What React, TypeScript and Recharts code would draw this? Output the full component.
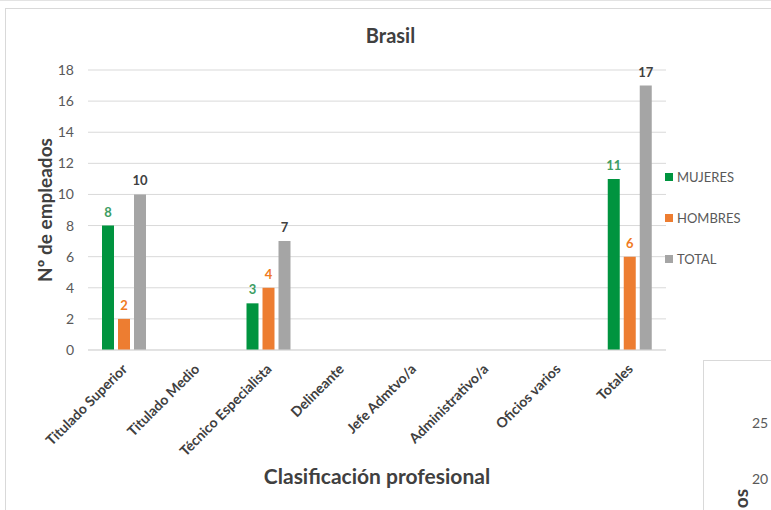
import React from "react";
import { BarChart, Bar, XAxis, YAxis, CartesianGrid, LabelList, Label } from "recharts";

const categories = [
  "Titulado Superior",
  "Titulado Medio",
  "Técnico Especialista",
  "Delineante",
  "Jefe Admtvo/a",
  "Administrativo/a",
  "Oficios varios",
  "Totales",
];
const mujeres = [8, 0, 3, 0, 0, 0, 0, 11];
const hombres = [2, 0, 4, 0, 0, 0, 0, 6];
const total = [10, 0, 7, 0, 0, 0, 0, 17];
const yTicks = [0, 2, 4, 6, 8, 10, 12, 14, 16, 18];

const series = [
  { key: "MUJERES", fill: "#00943F", labelColor: "#3C9D63" },
  { key: "HOMBRES", fill: "#ED7D31", labelColor: "#F07A22" },
  { key: "TOTAL", fill: "#A5A5A5", labelColor: "#404040" },
];

const data = categories.map((name, i) => ({
  name,
  MUJERES: mujeres[i],
  HOMBRES: hombres[i],
  TOTAL: total[i],
}));

const FONT = "Lato, 'Open Sans', sans-serif";

function CategoryTick(props: any) {
  const { x, y, payload } = props;
  return (
    <g transform={`translate(${x + 4},${y + 12})`}>
      <text
        transform="rotate(-45)"
        textAnchor="end"
        fontSize={14}
        fontWeight={700}
        fill="#404040"
        fontFamily={FONT}
      >
        {payload.value}
      </text>
    </g>
  );
}

function YTitle(props: any) {
  const { viewBox } = props;
  const cy = viewBox.y + viewBox.height / 2;
  return (
    <text
      x={44}
      y={cy}
      transform={`rotate(-90, 44, ${cy})`}
      textAnchor="middle"
      dominantBaseline="central"
      fontSize={19}
      fontWeight={700}
      fill="#404040"
      fontFamily={FONT}
    >
      Nº de empleados
    </text>
  );
}

const renderLabel = (color: string) => (props: any) => {
  const { x, y, width, value } = props;
  if (!value) return null;
  return (
    <text
      x={x + width / 2}
      y={y - 9}
      textAnchor="middle"
      fontSize={13}
      fontWeight={700}
      fill={color}
      fontFamily={FONT}
    >
      {value}
    </text>
  );
};

export default function App() {
  return (
    <div
      style={{
        position: "absolute",
        left: 0,
        top: 0,
        width: 771,
        height: 510,
        overflow: "hidden",
        background: "#fff",
        fontFamily: FONT,
      }}
    >
      <div style={{ position: "absolute", left: 0, top: 0, width: 771, height: 1, background: "#e3e3e3" }} />
      <div
        style={{
          position: "absolute",
          left: 5,
          top: 8,
          width: 820,
          height: 560,
          border: "1px solid #d9d9d9",
        }}
      />
      <div
        style={{
          position: "absolute",
          left: 0,
          top: 23,
          width: 781,
          textAlign: "center",
          fontSize: 20,
          fontWeight: 700,
          color: "#404040",
        }}
      >
        Brasil
      </div>
      <div style={{ position: "absolute", left: 0, top: 0 }}>
        <BarChart
          width={771}
          height={510}
          data={data}
          margin={{ top: 70, right: 105, left: 30, bottom: 20 }}
          barSize={12}
          barGap={4}
        >
          <CartesianGrid vertical={false} stroke="#d9d9d9" />
          <XAxis
            dataKey="name"
            interval={0}
            height={140}
            axisLine={{ stroke: "#d9d9d9" }}
            tickLine={false}
            tick={<CategoryTick />}
          >
            <Label
              value="Clasificación profesional"
              position="insideBottom"
              offset={6}
              fontSize={21}
              fontWeight={700}
              fill="#404040"
              fontFamily={FONT}
            />
          </XAxis>
          <YAxis
            width={58}
            domain={[0, 18]}
            ticks={yTicks}
            interval={0}
            axisLine={false}
            tickLine={false}
            tickMargin={8}
            tick={{ fontSize: 14, fill: "#595959", fontFamily: FONT }}
          >
            <Label content={<YTitle />} />
          </YAxis>
          {series.map((s) => (
            <Bar key={s.key} dataKey={s.key} fill={s.fill} isAnimationActive={false}>
              <LabelList dataKey={s.key} content={renderLabel(s.labelColor)} />
            </Bar>
          ))}
        </BarChart>
      </div>
      <div
        style={{
          position: "absolute",
          left: 665,
          top: 156,
          fontSize: 13,
          color: "#595959",
        }}
      >
        {series.map((s) => (
          <div key={s.key} style={{ display: "flex", alignItems: "center", height: 41 }}>
            <span style={{ width: 8, height: 8, background: s.fill, marginRight: 4, display: "inline-block" }} />
            {s.key}
          </div>
        ))}
      </div>
      <div
        style={{
          position: "absolute",
          left: 703,
          top: 360,
          width: 120,
          height: 200,
          border: "1px solid #d9d9d9",
          background: "#fff",
        }}
      >
        <div style={{ position: "absolute", left: 48, top: 53, fontSize: 14, color: "#595959" }}>25</div>
        <div style={{ position: "absolute", left: 48, top: 109, fontSize: 14, color: "#595959" }}>20</div>
        <svg style={{ position: "absolute", left: 24, top: 128 }} width={30} height={30}>
          <text
            x={12}
            y={0}
            transform="rotate(-90, 12, 0)"
            textAnchor="end"
            dominantBaseline="central"
            fontSize={19}
            fontWeight={700}
            fill="#404040"
            fontFamily={FONT}
          >
            os
          </text>
        </svg>
      </div>
    </div>
  );
}
